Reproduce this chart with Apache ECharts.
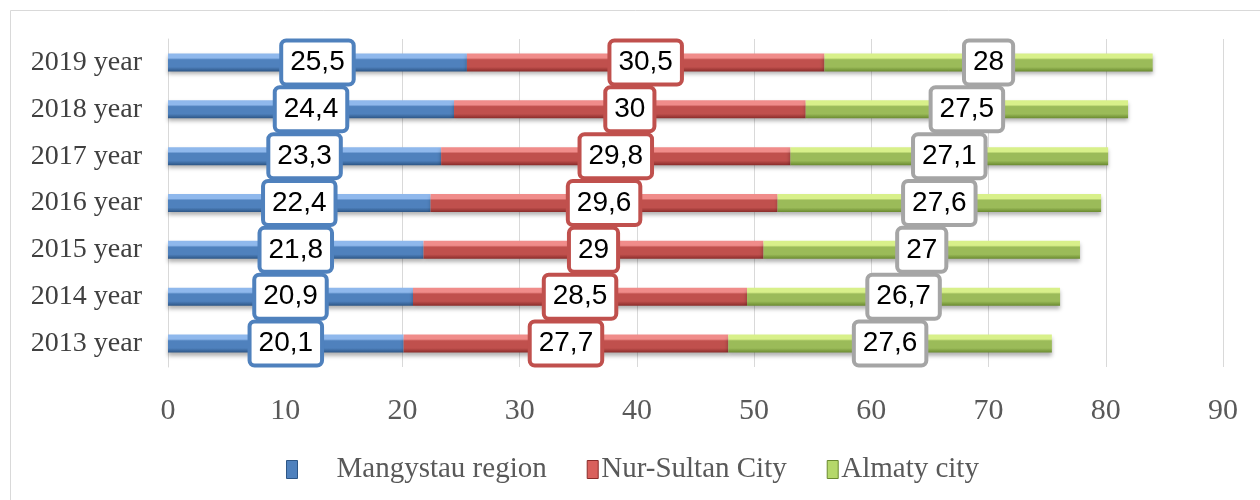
<!DOCTYPE html>
<html>
<head>
<meta charset="utf-8">
<script src="https://cdn.jsdelivr.net/npm/echarts@6/dist/echarts.min.js"></script>
<style>
  html, body { margin: 0; padding: 0; background: #fff; }
  #chart { width: 1260px; height: 500px; }
</style>
</head>
<body>
<div id="chart"></div>
<script>
// data
const years = ['2013 year', '2014 year', '2015 year', '2016 year', '2017 year', '2018 year', '2019 year']
const mangystau = [20.1, 20.9, 21.8, 22.4, 23.3, 24.4, 25.5]
const nurSultan = [27.7, 28.5, 29, 29.6, 29.8, 30, 30.5]
const almaty = [27.6, 26.7, 27, 27.6, 27.1, 27.5, 28]
const xTicks = [0, 10, 20, 30, 40, 50, 60, 70, 80, 90]

// 3D-ish bar fill: light top, base colour, dark bottom
function barFill(light, base, dark) {
  return new echarts.graphic.LinearGradient(0, 0, 0, 1, [
    { offset: 0, color: light },
    { offset: 0.25, color: light },
    { offset: 0.35, color: base },
    { offset: 0.75, color: base },
    { offset: 1, color: dark }
  ])
}

function makeSeries(name, values, fill, border) {
  return {
    name: name,
    type: 'bar',
    stack: 'total',
    data: values,
    barWidth: 18,
    itemStyle: {
      color: fill,
      shadowBlur: 4,
      shadowOffsetY: 3,
      shadowColor: 'rgba(0,0,0,0.3)'
    },
    label: {
      show: true,
      position: 'inside',
      formatter: p => String(p.value).replace('.', ','),
      fontFamily: 'Liberation Sans',
      fontSize: 28,
      color: '#000',
      backgroundColor: '#fff',
      borderColor: border,
      borderWidth: 4,
      borderRadius: 3,
      padding: [7, 7, 5, 7]
    }
  }
}

const chart = echarts.init(document.getElementById('chart'))
chart.setOption({
  animation: false,
  backgroundColor: '#fff',
  graphic: [{
    type: 'rect',
    shape: { x: 10.5, y: 10.5, width: 1300, height: 600 },
    style: { fill: 'none', stroke: '#d9d9d9', lineWidth: 1 },
    silent: true
  }],
  grid: { left: 168, right: 37, top: 39, bottom: 133 },
  legend: {
    top: 450,
    left: 281,
    itemWidth: 11,
    itemHeight: 18,
    itemGap: 40,
    icon: 'rect',
    textStyle: { fontFamily: 'Liberation Serif', fontSize: 29, color: '#595959', padding: [0, 0, 0, -2] },
    data: [
      { name: 'Mangystau region', itemStyle: { color: '#4f81bd', borderColor: '#2d5686', borderWidth: 1 }, textStyle: { padding: [0, 0, 0, 34] } },
      { name: 'Nur-Sultan City', itemStyle: { color: '#d9605c', borderColor: '#8a2c2a', borderWidth: 1 } },
      { name: 'Almaty city', itemStyle: { color: '#b5d86a', borderColor: '#6a8a30', borderWidth: 1 } }
    ]
  },
  xAxis: {
    type: 'value',
    min: xTicks[0],
    max: xTicks[xTicks.length - 1],
    interval: 10,
    axisLine: { show: false },
    axisTick: { show: false },
    splitLine: { lineStyle: { color: '#d9d9d9', width: 1 } },
    axisLabel: { fontFamily: 'Liberation Serif', fontSize: 30, color: '#595959', margin: 29 }
  },
  yAxis: {
    type: 'category',
    data: years,
    axisLine: { show: true, lineStyle: { color: '#d9d9d9' } },
    axisTick: { show: false },
    axisLabel: { fontFamily: 'Liberation Serif', fontSize: 28, color: '#404040', margin: 26 }
  },
  series: [
    makeSeries('Mangystau region', mangystau, barFill('#8fb8ec', '#4f81bd', '#2d5686'), '#4f81bd'),
    makeSeries('Nur-Sultan City', nurSultan, barFill('#f08c8a', '#c0504d', '#8a2c2a'), '#c0504d'),
    makeSeries('Almaty city', almaty, barFill('#d8f08a', '#9bbb59', '#6a8a30'), '#a5a5a5')
  ]
})
</script>
</body>
</html>
